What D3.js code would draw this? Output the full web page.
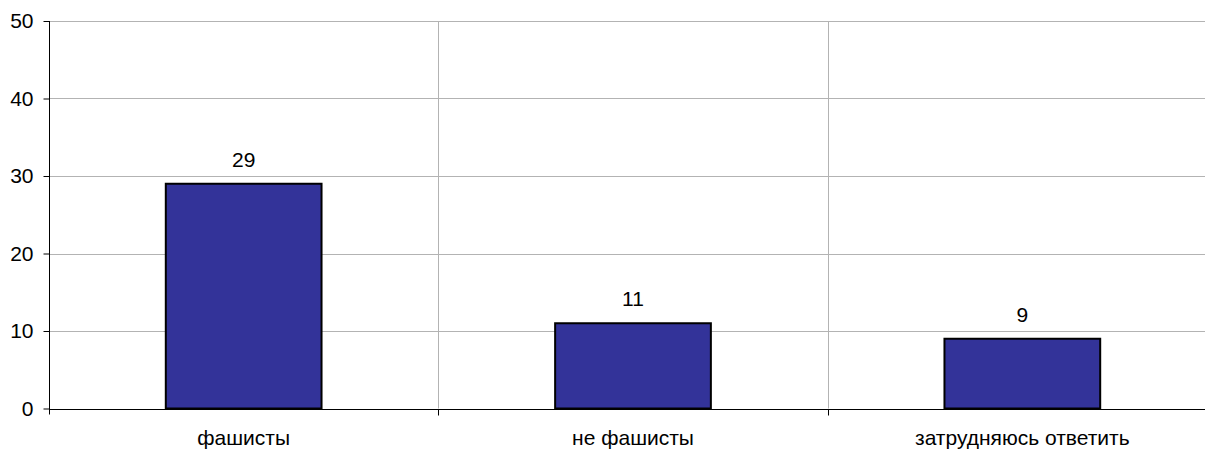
<!DOCTYPE html>
<html>
<head>
<meta charset="utf-8">
<script src="https://cdn.jsdelivr.net/npm/d3@7"></script>
<style>
  body { margin: 0; background: #fff; }
  svg { display: block; font-family: "Liberation Sans", Arial, sans-serif; }
  .grid line { stroke: #b3b3b3; stroke-width: 1; }
  .axis path, .axis line { stroke: #000; }
  .axis text { fill: #000; font-size: 21px; }
</style>
</head>
<body>
<div id="chart"></div>
<script>
// Данные
const categories = ["фашисты", "не фашисты", "затрудняюсь ответить"];
const values = [29, 11, 9];
const yTicks = [0, 10, 20, 30, 40, 50];

const width = 1205, height = 450;
const margin = { top: 21, left: 49, bottom: 42 };
const plotRight = 1217; // правый край уходит за окно, как на оригинале

const svg = d3.select("#chart").append("svg")
    .attr("width", width)
    .attr("height", height);

const x = d3.scaleBand()
    .domain(categories)
    .range([margin.left, plotRight])
    .paddingInner(0.6)
    .paddingOuter(0.3);

const y = d3.scaleLinear()
    .domain([0, 50])
    .range([height - margin.bottom + 0.5, margin.top]);

// Сетка
const grid = svg.append("g").attr("class", "grid");
grid.selectAll(".h")
    .data(yTicks.filter(d => d > 0))
    .enter().append("line")
    .attr("x1", margin.left)
    .attr("x2", plotRight)
    .attr("y1", d => Math.round(y(d)) + 0.5)
    .attr("y2", d => Math.round(y(d)) + 0.5);

// вертикальные разделители категорий
const step = x.step();
const bounds = categories.slice(1).map(c => x(c) - x.paddingInner() * step / 2);
grid.selectAll(".v")
    .data(bounds)
    .enter().append("line")
    .attr("x1", d => Math.round(d) + 0.5)
    .attr("x2", d => Math.round(d) + 0.5)
    .attr("y1", margin.top)
    .attr("y2", y(0));

// Столбцы
svg.append("g")
    .selectAll("rect")
    .data(values)
    .enter().append("rect")
    .attr("x", (d, i) => x(categories[i]))
    .attr("y", d => y(d))
    .attr("width", x.bandwidth())
    .attr("height", d => y(0) - y(d))
    .attr("fill", "#333399")
    .attr("stroke", "#000")
    .attr("stroke-width", 2);

// Подписи значений
svg.append("g")
    .selectAll("text")
    .data(values)
    .enter().append("text")
    .attr("x", (d, i) => x(categories[i]) + x.bandwidth() / 2)
    .attr("y", d => y(d) - 17)
    .attr("text-anchor", "middle")
    .attr("font-size", 21)
    .text(d => d);

// Ось Y
const yAxis = svg.append("g")
    .attr("class", "axis")
    .attr("transform", `translate(${margin.left + 0.5},0)`)
    .call(d3.axisLeft(y).tickValues(yTicks).tickSize(6).tickSizeOuter(0).tickPadding(10));
yAxis.select(".domain").attr("d", `M0,${margin.top}V${y(0) + 6}`);

// Ось X
const xAxis = svg.append("g")
    .attr("class", "axis")
    .attr("transform", `translate(0,${Math.round(y(0)) + 0.5})`);
xAxis.append("line")
    .attr("x1", margin.left)
    .attr("x2", plotRight);
xAxis.selectAll(".tick")
    .data(bounds)
    .enter().append("line")
    .attr("x1", d => Math.round(d) + 0.5)
    .attr("x2", d => Math.round(d) + 0.5)
    .attr("y1", 0)
    .attr("y2", 6);
xAxis.selectAll("text")
    .data(categories)
    .enter().append("text")
    .attr("x", d => x(d) + x.bandwidth() / 2)
    .attr("y", 35)
    .attr("text-anchor", "middle")
    .text(d => d);
</script>
</body>
</html>
